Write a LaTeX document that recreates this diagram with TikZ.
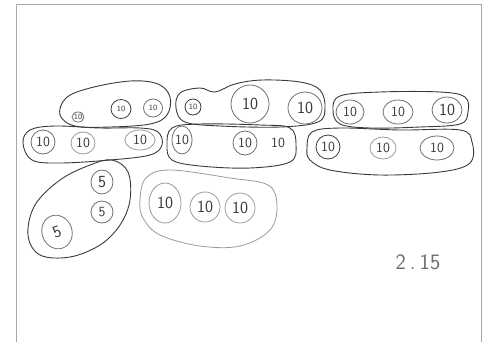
\documentclass[tikz,border=0pt]{standalone}
\usepackage{tikz}
\usetikzlibrary{shapes.geometric}
\definecolor{pencil}{HTML}{3A3A3A}
\definecolor{pencilsoft}{HTML}{6E6E6E}
\definecolor{pencilfaint}{HTML}{9A9A9A}
\definecolor{sheet}{HTML}{A8A8A8}
\tikzset{
  grp/.style      = {draw=pencil, line width=0.9pt, line join=round},
  grpfaint/.style = {draw=pencilfaint, line width=0.8pt, line join=round},
  coin/.style     = {ellipse, draw=pencilsoft, line width=0.8pt, inner sep=0pt,
                      text=pencil, font=\sffamily\fontsize{14}{14}\selectfont},
  bare/.style     = {inner sep=0pt, text=pencil, font=\sffamily\fontsize{14}{14}\selectfont},
  tiny/.style     = {font=\sffamily\fontsize{8}{8}\selectfont},
  big/.style      = {font=\sffamily\fontsize{17}{17}\selectfont},
}
\begin{document}
\begin{tikzpicture}[x=1pt, y=-1pt]
\useasboundingbox (0,0) rectangle (489,341);

% ---- Sheet edge ----
\draw[sheet, line width=1pt] (16,345) -- (16,4) -- (481,4) -- (481,345);

% ---- Row 1: left group ----
\draw[grp] plot[smooth cycle, tension=0.6] coordinates
  {(60,115) (66,98) (90,88) (130,81) (158,84) (170,97) (167,115) (150,124) (110,127) (75,126)};
\node[coin, tiny, minimum width=11pt, minimum height=10pt] (a1) at (78,117) {10};
\node[coin, tiny, minimum width=20pt, minimum height=19pt, draw=pencil] (a2) at (121,109) {10};
\node[coin, tiny, minimum width=19pt, minimum height=18pt] (a3) at (153,108) {10};

% ---- Row 2: left group ----
\draw[grp] plot[smooth cycle, tension=0.6] coordinates
  {(23,143) (30,130) (55,126) (100,128) (140,128) (158,132) (162,145) (150,155) (110,160) (60,163) (32,160)};
\node[coin, minimum width=24pt, minimum height=24pt] (b1) at (43,142) {10};
\node[coin, minimum width=24pt, minimum height=22pt, draw=pencilfaint] (b2) at (83,143) {10};
\node[coin, minimum width=30pt, minimum height=20pt, draw=pencilfaint] (b3) at (140,140) {10};

% ---- Row 1: middle group ----
\draw[grp] plot[smooth cycle, tension=0.6] coordinates
  {(176,108) (180,93) (200,88) (215,92) (235,84) (262,80) (300,82) (320,90) (325,108) (318,122) (280,127) (220,126) (185,122)};
\node[coin, tiny, minimum width=16pt, minimum height=16pt, draw=pencil] (c1) at (193,107) {10};
\node[coin, big, minimum width=38pt, minimum height=38pt] (c2) at (250,104) {10};
\node[coin, big, minimum width=34pt, minimum height=32pt] (c3) at (305,108) {10};

% ---- Row 2: middle group ----
\draw[grp] plot[smooth cycle, tension=0.6] coordinates
  {(167,145) (172,128) (200,124) (260,125) (290,128) (296,145) (290,162) (250,168) (200,166) (172,160)};
\node[coin, minimum width=20pt, minimum height=28pt] (d1) at (182,140) {10};
\node[coin, minimum width=24pt, minimum height=24pt] (d2) at (245,143) {10};
\node[bare] (d3) at (278,143) {10};

% ---- Row 1: right group ----
\draw[grp] plot[smooth cycle, tension=0.6] coordinates
  {(333,110) (340,96) (380,92) (440,92) (465,97) (468,112) (460,124) (420,127) (370,128) (340,124)};
\node[coin, minimum width=28pt, minimum height=24pt] (e1) at (350,112) {10};
\node[coin, minimum width=30pt, minimum height=24pt] (e2) at (398,112) {10};
\node[coin, big, minimum width=30pt, minimum height=26pt] (e3) at (447,110) {10};

% ---- Row 2: right group ----
\draw[grp] plot[smooth cycle, tension=0.6] coordinates
  {(307,148) (312,132) (340,128) (400,130) (460,130) (472,142) (470,163) (440,172) (380,175) (330,170) (310,160)};
\node[coin, minimum width=24pt, minimum height=24pt, draw=pencil] (f1) at (328,147) {10};
\node[coin, minimum width=26pt, minimum height=22pt, draw=pencilfaint] (f2) at (383,148) {10};
\node[coin, minimum width=34pt, minimum height=24pt] (f3) at (437,148) {10};

% ---- Fives ----
\draw[grp] plot[smooth cycle, tension=0.6] coordinates
  {(28,235) (35,205) (60,180) (90,165) (112,160) (128,172) (130,200) (120,225) (100,245) (70,257) (40,255)};
\node[coin, big, minimum width=22pt, minimum height=24pt] (g1) at (102,182) {5};
\node[coin, minimum width=22pt, minimum height=22pt] (g2) at (102,212) {5};
\node[coin, big, minimum width=30pt, minimum height=34pt, rotate=20] (g3) at (57,232) {5};

% ---- Bottom group of three ----
\draw[grpfaint] plot[smooth cycle, tension=0.6] coordinates
  {(140,200) (146,178) (170,170) (230,178) (268,185) (277,205) (270,230) (240,246) (200,246) (160,235) (143,218)};
\node[coin, big, draw=pencilfaint, minimum width=32pt, minimum height=40pt] (h1) at (165,203) {10};
\node[coin, big, draw=pencilfaint, minimum width=30pt, minimum height=30pt] (h2) at (205,207) {10};
\node[coin, big, draw=pencilfaint, minimum width=30pt, minimum height=30pt] (h3) at (240,208) {10};

% ---- Time ----
\node[bare, font=\sffamily\fontsize{22}{22}\selectfont, text=pencilsoft] (time) at (418,262) {2\kern4pt.\kern4pt15};

\end{tikzpicture}
\end{document}
